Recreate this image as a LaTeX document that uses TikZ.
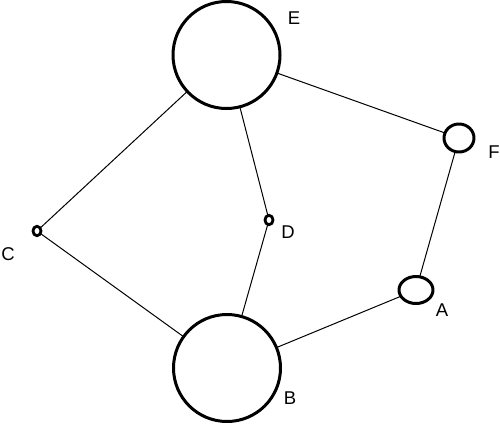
\documentclass[tikz,border=0pt]{standalone}
\usepackage{fontspec}
\setmainfont{Liberation Sans}
\usetikzlibrary{shapes.geometric}

\begin{document}
\begin{tikzpicture}[x=1pt, y=-1pt, line cap=round, line join=round,
    knoten/.style={draw, line width=3pt, inner sep=0pt, outer sep=0pt},
    gross/.style={knoten, circle, minimum size=107pt},
    klein/.style={knoten, ellipse, line width=2.8pt, minimum width=8pt, minimum height=9.5pt},
    mittel/.style={knoten, ellipse},
    kante/.style={line width=1pt},
    beschr/.style={font=\fontsize{18.5}{18.5}\selectfont, inner sep=0pt}]

  % Rahmen festlegen
  \useasboundingbox (0,0) rectangle (500,426);

  % Knoten zeichnen
  \node[gross] (E) at (226.5,55) {};
  \node[gross] (B) at (227,368) {};
  \node[klein] (C) at (37,231) {};
  \node[klein] (D) at (269,220) {};
  \node[mittel, minimum width=30pt, minimum height=28pt] (F) at (459,138) {};
  \node[mittel, minimum width=34pt, minimum height=27pt] (A) at (416,290) {};

  % Beschriftungen
  \node[beschr] (lE) at (294,18) {E};
  \node[beschr] (lB) at (290,398) {B};
  \node[beschr] (lC) at (8,254) {C};
  \node[beschr] (lD) at (288,232) {D};
  \node[beschr] (lF) at (494,152) {F};
  \node[beschr] (lA) at (442,310) {A};

  % Kanten
  \foreach \a/\b in {E/C, E/D, E/F, C/B, D/B, B/A, A/F} {
    \draw[kante] (\a) -- (\b);
  }

\end{tikzpicture}
\end{document}
